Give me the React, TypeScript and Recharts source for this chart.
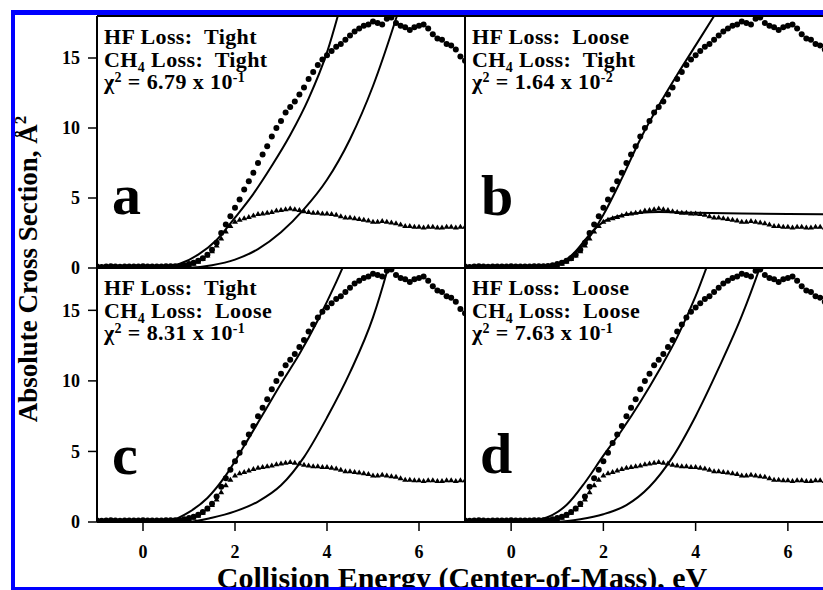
import { ComposedChart, XAxis, YAxis, Scatter, Line, ReferenceLine } from 'recharts'

const FONT = '"Liberation Serif", "Times New Roman", serif'

// collision energies of the measured points (eV)
const energies = [
  -1.0, -0.9, -0.8, -0.7, -0.6, -0.5, -0.4, -0.3, -0.2, -0.1, 0.0, 0.1, 0.2, 0.3, 0.4, 0.5, 0.6,
  0.7, 0.8, 0.9, 1.0, 1.1, 1.2, 1.3, 1.4, 1.5, 1.6, 1.7, 1.8, 1.9, 2.0, 2.1, 2.2, 2.3, 2.4, 2.5,
  2.6, 2.7, 2.8, 2.9, 3.0, 3.1, 3.2, 3.3, 3.4, 3.5, 3.6, 3.7, 3.8, 3.9, 4.0, 4.1, 4.2, 4.3, 4.4,
  4.5, 4.6, 4.7, 4.8, 4.9, 5.0, 5.1, 5.2, 5.3, 5.4, 5.5, 5.6, 5.7, 5.8, 5.9, 6.0, 6.1, 6.2, 6.3,
  6.4, 6.5, 6.6, 6.7, 6.8, 6.9, 7.0,
]

// circles (HF loss cross section)
const hfLoss = [
  0.1, 0.08, 0.1, 0.12, 0.1, 0.09, 0.1, 0.11, 0.1, 0.1, 0.12, 0.1, 0.1, 0.11, 0.1, 0.12, 0.12,
  0.13, 0.15, 0.2, 0.28, 0.38, 0.52, 0.7, 0.95, 1.3, 1.8, 2.5, 3.1, 3.7, 4.3, 4.9, 5.6, 6.2, 6.8, 7.5,
  8.1, 8.7, 9.4, 10.0, 10.5, 11.1, 11.5, 11.9, 12.4, 12.9, 13.5, 14.0, 14.5, 14.9, 15.2, 15.5, 15.8, 16.0, 16.3,
  16.6, 16.9, 17.1, 17.3, 17.4, 17.6, 17.5, 17.4, 17.8, 17.9, 17.5, 17.3, 17.2, 17.0, 17.2, 17.3, 17.4, 17.1, 16.7,
  16.4, 16.3, 16.0, 15.9, 15.6, 15.1, 14.8,
]

// triangles (CH4 loss cross section)
const ch4Loss = [
  0.05, 0.05, 0.04, 0.05, 0.06, 0.05, 0.05, 0.04, 0.05, 0.05, 0.06, 0.05, 0.05, 0.05, 0.04, 0.05, 0.05,
  0.06, 0.08, 0.12, 0.2, 0.3, 0.45, 0.65, 0.9, 1.2, 1.6, 2.1, 2.6, 3.0, 3.3, 3.45, 3.55, 3.65, 3.75, 3.85,
  3.9, 3.95, 4.0, 4.1, 4.15, 4.2, 4.25, 4.2, 4.15, 4.05, 4.0, 3.95, 3.95, 3.9, 3.9, 3.85, 3.8, 3.7, 3.6,
  3.6, 3.55, 3.5, 3.45, 3.4, 3.3, 3.3, 3.35, 3.3, 3.25, 3.2, 3.1, 3.0, 3.0, 2.95, 2.95, 2.9, 2.95, 2.95,
  2.9, 2.9, 2.95, 2.95, 2.9, 2.95, 2.95,
]

// model curves, panel a (HF tight / CH4 tight)
const fitA1x = [-1, 0.4, 0.8, 1.2, 1.6, 2.0, 2.4, 2.8, 3.2, 3.6, 4.0, 4.4]
const fitA1y = [0, 0.02, 0.3, 0.95, 2.0, 3.6, 5.3, 7.3, 9.5, 12.1, 15.4, 20]
const fitA2x = [-1, 0.6, 1.0, 1.5, 2.0, 2.5, 3.0, 3.5, 4.0, 4.5, 5.0, 5.5, 5.8]
const fitA2y = [0, 0, 0.02, 0.2, 0.6, 1.35, 2.55, 4.2, 6.3, 9.2, 13.0, 17.8, 21]

// panel b (HF loose / CH4 tight)
const fitB1x = [-1, 0.6, 0.8, 1.0, 1.2, 1.4, 1.6, 1.8, 2.0, 2.4, 2.8, 3.2, 3.6, 4.0, 4.4, 4.7]
const fitB1y = [0, 0, 0.05, 0.25, 0.6, 1.1, 1.8, 2.7, 3.8, 6.4, 9.2, 11.6, 13.8, 15.9, 18.0, 19.6]
const fitB2x = [-1, 0.6, 0.8, 1.0, 1.2, 1.4, 1.6, 1.8, 2.0, 2.4, 2.8, 3.2, 4.0, 5.0, 6.0, 7.0]
const fitB2y = [0, 0, 0.05, 0.25, 0.6, 1.2, 2.0, 2.75, 3.3, 3.75, 3.95, 4.0, 3.95, 3.9, 3.86, 3.83]

// panel c (HF tight / CH4 loose)
const fitC1x = [-1, 0.3, 0.6, 1.0, 1.4, 1.8, 2.2, 2.6, 3.0, 3.4, 3.8, 4.2, 4.6]
const fitC1y = [0, 0, 0.1, 0.7, 1.7, 3.3, 5.4, 7.6, 9.8, 11.9, 14.3, 17.0, 20]
const fitC2x = [-1, 0.6, 1.0, 1.5, 2.0, 2.5, 3.0, 3.5, 4.0, 4.5, 5.0, 5.3, 5.6]
const fitC2y = [0, 0, 0.02, 0.3, 0.75, 1.45, 2.6, 4.6, 7.4, 10.6, 14.5, 17.7, 21.5]

// panel d (HF loose / CH4 loose)
const fitD1x = [-1, 0.3, 0.6, 0.9, 1.2, 1.6, 2.0, 2.4, 2.8, 3.2, 3.6, 4.0, 4.3, 4.6]
const fitD1y = [0, 0, 0.15, 0.5, 1.2, 2.8, 4.7, 6.5, 8.5, 10.7, 13.1, 16.0, 18.6, 21.3]
const fitD2x = [-1, 0.6, 1.0, 1.5, 2.0, 2.5, 3.0, 3.5, 4.0, 4.5, 5.0, 5.4, 5.7]
const fitD2y = [0, 0, 0.02, 0.2, 0.55, 1.2, 2.5, 4.6, 7.5, 10.9, 14.6, 18.1, 21]

const xTickValues = [0, 2, 4, 6]
const yTickValues = [0, 5, 10, 15]

const zip = (xs: number[], ys: number[]) => xs.map((x, i) => ({ x, y: ys[i] }))
const hfPoints = zip(energies, hfLoss)
const ch4Points = zip(energies, ch4Loss)

const dotShape = (p: any) => <circle cx={p.cx} cy={p.cy} r={3} fill="#000" />
const triShape = (p: any) => (
  <polygon points={`${p.cx},${p.cy - 3} ${p.cx - 3},${p.cy + 2} ${p.cx + 3},${p.cy + 2}`} fill="#000" />
)

const tickFont = { fill: '#000', fontFamily: FONT, fontWeight: 700, fontSize: 18 }
const axisStroke = { stroke: '#000', strokeWidth: 2 }

interface PanelProps {
  margin: { top: number; left: number; right: number; bottom: number }
  fit1: { x: number; y: number }[]
  fit2: { x: number; y: number }[]
  showX: boolean
  showY: boolean
}

function Panel({ margin, fit1, fit2, showX, showY }: PanelProps) {
  return (
    <div style={{ position: 'absolute', left: 0, top: 0 }}>
      <ComposedChart width={840} height={590} margin={margin}>
        <XAxis
          dataKey="x"
          type="number"
          domain={[-1, 7]}
          allowDataOverflow
          ticks={xTickValues}
          height={40}
          axisLine={axisStroke}
          tickLine={showX ? { stroke: '#000', strokeWidth: 1.5 } : false}
          tick={showX ? tickFont : false}
          tickSize={9}
          tickMargin={14}
        />
        <YAxis
          dataKey="y"
          type="number"
          domain={[0, 18]}
          allowDataOverflow
          ticks={yTickValues}
          width={60}
          axisLine={axisStroke}
          tickLine={showY ? { stroke: '#000', strokeWidth: 1.5 } : false}
          tick={showY ? tickFont : false}
          tickSize={9}
          tickMargin={8}
        />
        <ReferenceLine y={18} stroke="#000" strokeWidth={2} />
        <ReferenceLine x={7} stroke="#000" strokeWidth={2} />
        <Scatter data={ch4Points} dataKey="y" shape={triShape} isAnimationActive={false} />
        <Scatter data={hfPoints} dataKey="y" shape={dotShape} isAnimationActive={false} />
        <Line data={fit1} dataKey="y" type="monotone" stroke="#000" strokeWidth={2} dot={false} isAnimationActive={false} />
        <Line data={fit2} dataKey="y" type="monotone" stroke="#000" strokeWidth={2} dot={false} isAnimationActive={false} />
      </ComposedChart>
    </div>
  )
}

function Annot({ x, y, hf, ch4, chi, exp }: { x: number; y: number; hf: string; ch4: string; chi: string; exp: string }) {
  return (
    <text fontFamily={FONT} fontWeight={700} fontSize={22} letterSpacing={0.4} fill="#000" style={{ whiteSpace: 'pre' }}>
      <tspan x={x} y={y}>{`HF Loss:  ${hf}`}</tspan>
      <tspan x={x} y={y + 23}>CH</tspan>
      <tspan fontSize={14} dy={5}>4</tspan>
      <tspan dy={-5}>{` Loss:  ${ch4}`}</tspan>
      <tspan x={x} y={y + 45}>χ</tspan>
      <tspan fontSize={14} dy={-7}>2</tspan>
      <tspan dy={7}>{` = ${chi} x 10`}</tspan>
      <tspan fontSize={14} dy={-7}>{exp}</tspan>
    </text>
  )
}

export default function App() {
  return (
    <div style={{ position: 'absolute', left: 0, top: 0, width: 823, height: 590, overflow: 'hidden', background: '#fff' }}>
      <Panel margin={{ top: 16, left: 37, right: 375, bottom: 282 }} fit1={zip(fitA1x, fitA1y)} fit2={zip(fitA2x, fitA2y)} showX={false} showY />
      <Panel margin={{ top: 16, left: 405, right: 6, bottom: 282 }} fit1={zip(fitB1x, fitB1y)} fit2={zip(fitB2x, fitB2y)} showX={false} showY={false} />
      <Panel margin={{ top: 268, left: 37, right: 375, bottom: 28 }} fit1={zip(fitC1x, fitC1y)} fit2={zip(fitC2x, fitC2y)} showX showY />
      <Panel margin={{ top: 268, left: 405, right: 6, bottom: 28 }} fit1={zip(fitD1x, fitD1y)} fit2={zip(fitD2x, fitD2y)} showX showY={false} />

      <svg width={823} height={590} style={{ position: 'absolute', left: 0, top: 0 }}>
        <Annot x={104} y={44} hf="Tight" ch4="Tight" chi="6.79" exp="-1" />
        <Annot x={472} y={44} hf="Loose" ch4="Tight" chi="1.64" exp="-2" />
        <Annot x={104} y={295} hf="Tight" ch4="Loose" chi="8.31" exp="-1" />
        <Annot x={472} y={295} hf="Loose" ch4="Loose" chi="7.63" exp="-1" />

        <g fontFamily={FONT} fontWeight={700} fontSize={58} fill="#000">
          <text x={112} y={214}>a</text>
          <text x={481} y={215}>b</text>
          <text x={112} y={474}>c</text>
          <text x={480} y={473}>d</text>
        </g>

        <text x={37} y={269} transform="rotate(-90 37 269)" textAnchor="middle" fontFamily={FONT} fontWeight={700} fontSize={27} fill="#000">
          Absolute Cross Section, Å<tspan fontSize={17} dy={-11}>2</tspan>
        </text>
        <text x={462} y={588} textAnchor="middle" fontFamily={FONT} fontWeight={700} fontSize={30} fill="#000">
          Collision Energy (Center-of-Mass), eV
        </text>
      </svg>

      <div style={{ position: 'absolute', left: 11, top: 10, width: 900, height: 5, background: '#0000ff' }} />
      <div style={{ position: 'absolute', left: 11, top: 10, width: 4, height: 580, background: '#0000ff' }} />
      <div style={{ position: 'absolute', left: 11, top: 587, width: 900, height: 3, background: '#0000ff' }} />
    </div>
  )
}
